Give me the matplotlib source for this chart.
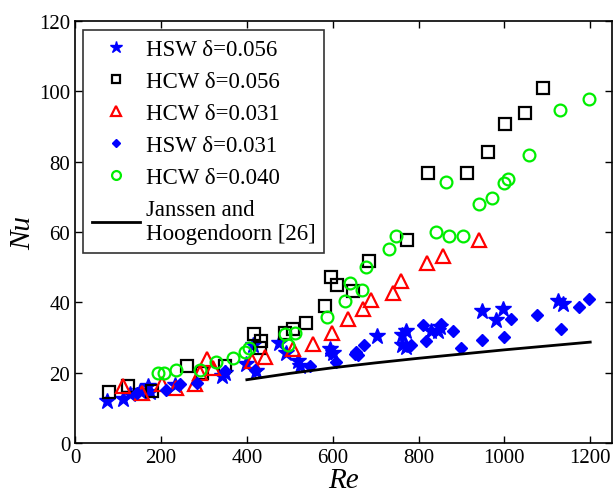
import matplotlib
matplotlib.use("Agg")
import matplotlib.pyplot as plt

# HSW delta=0.056 (blue stars)
hsw056_re = [75, 111, 128, 151, 170, 175, 232, 342, 349, 399, 414, 422, 476, 492, 519, 523,
             593, 600, 704, 762, 762, 770, 770, 829, 845, 850, 947, 981, 996, 1124, 1136]
hsw056_nu = [12, 12.5, 13.9, 14.8, 16.2, 14.5, 16.4, 19, 20, 22.4, 28, 20.5, 28.5, 25.7, 23.3, 21.9,
             26.6, 25.5, 30.4, 30.6, 28, 31.8, 27.4, 31.8, 31.8, 33, 37.5, 35.1, 38.1, 40.3, 39.6]

# HCW delta=0.056 (black squares)
hcw056_re = [79, 124, 178, 260, 295, 350, 417, 430, 434, 489, 508, 537, 583, 597, 610, 647,
             684, 772, 823, 913, 963, 1002, 1047, 1089]
hcw056_nu = [14.6, 16.2, 14.8, 21.9, 20, 22, 31.1, 27.1, 29.1, 31.3, 32.3, 34, 38.9, 47.1, 44.8, 43.1,
             51.9, 57.8, 76.8, 76.8, 82.7, 90.8, 93.9, 101]

# HCW delta=0.031 (red triangles)
hcw031_re = [112, 155, 202, 236, 279, 291, 308, 320, 411, 442, 508, 554, 599, 636, 671, 690,
             740, 760, 820, 857, 940]
hcw031_nu = [16.2, 14.1, 16.7, 15.6, 16.7, 20, 23.8, 21.4, 23.3, 24.5, 26.6, 28.2, 31.3, 35.3, 38.1, 40.6,
             42.8, 46.2, 51.1, 53.2, 57.6]

# HSW delta=0.031 (blue diamonds)
hsw031_re = [143, 212, 244, 283, 349, 419, 547, 597, 608, 651, 655, 659, 673, 783, 810, 818,
             853, 881, 898, 947, 1000, 1016, 1077, 1133, 1174, 1198]
hsw031_nu = [14.3, 15, 16.7, 17, 20.5, 20.9, 21.9, 25.7, 23, 25.2, 25.8, 24.9, 28, 28, 33.7, 29,
             33.9, 31.8, 27.1, 29.2, 30.2, 35.3, 36.4, 32.3, 38.6, 41]

# HCW delta=0.040 (green circles)
hcw040_re = [192, 207, 236, 291, 328, 368, 395, 405, 488, 496, 512, 587, 628, 641, 668, 677,
             731, 747, 841, 864, 872, 904, 940, 971, 1000, 1009, 1058, 1129, 1196]
hcw040_nu = [19.8, 19.8, 20.7, 20.9, 23.1, 24.2, 25.8, 27.1, 31.1, 28, 31.3, 35.8, 40.5, 45.5, 43.4, 50,
             55.2, 59, 60.1, 74.2, 58.9, 58.9, 68.1, 69.8, 74, 75, 82, 94.7, 97.8]

# Janssen and Hoogendoorn correlation
jh_re = [400, 500, 600, 700, 800, 900, 1000, 1100, 1200]
jh_nu = [18, 19.8, 21.4, 22.8, 24.1, 25.3, 26.5, 27.6, 28.7]

plt.rcParams['font.family'] = ['Liberation Serif', 'DejaVu Serif']

fig = plt.figure(figsize=(6.16, 5.02), dpi=100)
ax = fig.add_axes([0.122, 0.1155, 0.871, 0.8405])

ax.plot(hsw056_re, hsw056_nu, ls='none', marker='*', ms=12, color='#0000ff', mec='#0000ff',
        label='HSW δ=0.056')
ax.plot(hcw056_re, hcw056_nu, ls='none', marker='s', ms=8, mfc='none', mec='black', mew=1.6,
        label='HCW δ=0.056')
ax.plot(hcw031_re, hcw031_nu, ls='none', marker='^', ms=10, mfc='none', mec='#ff0000', mew=1.6,
        label='HCW δ=0.031')
ax.plot(hsw031_re, hsw031_nu, ls='none', marker='D', ms=6, color='#0000ff', mec='#0000ff',
        label='HSW δ=0.031')
ax.plot(hcw040_re, hcw040_nu, ls='none', marker='o', ms=8.5, mfc='none', mec='#00ee00', mew=1.6,
        label='HCW δ=0.040')
ax.plot(jh_re, jh_nu, color='black', lw=2, label='Janssen and\nHoogendoorn [26]')

ax.set_xlim(0, 1250)
ax.set_ylim(0, 120)
ax.set_xticks(range(0, 1201, 200))
ax.set_yticks(range(0, 121, 20))
ax.tick_params(direction='in', top=True, right=True, labelsize=15, length=5, width=1)
for s in ax.spines.values():
    s.set_linewidth(1.2)

ax.set_xlabel('Re', fontsize=21, style='italic', labelpad=0)
ax.set_ylabel('Nu', fontsize=21, style='italic', labelpad=2)

leg = ax.legend(loc='upper left', fontsize=16.5, frameon=True, fancybox=False,
                edgecolor='black', handlelength=2.1, borderpad=0.38, labelspacing=0.48,
                handletextpad=0.25, markerscale=0.75, borderaxespad=0,
                bbox_to_anchor=(0.015, 0.978))
leg.get_frame().set_linewidth(1.2)

fig.savefig('out.png', dpi=100)
